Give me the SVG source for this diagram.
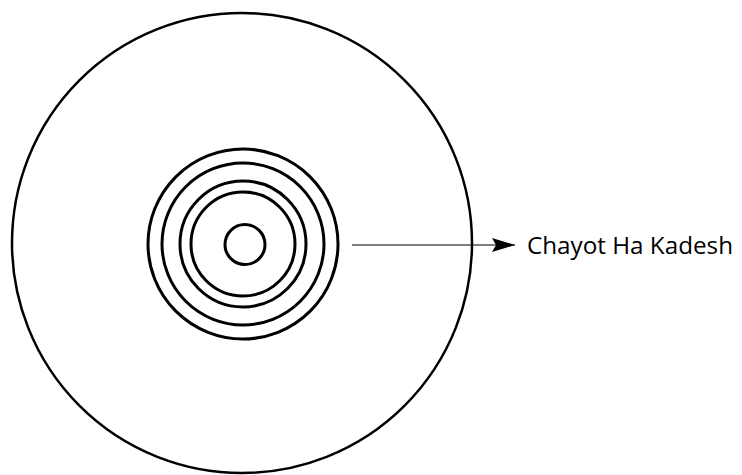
<svg xmlns="http://www.w3.org/2000/svg" width="742" height="475" viewBox="0 0 742 475">
<style>
.ring{fill:none;stroke:#000;stroke-width:3}
.outer{fill:none;stroke:#000;stroke-width:2.5}
.conn{fill:none;stroke:#000;stroke-width:1.2}
.lbl{font-family:"Open Sans","Liberation Sans",sans-serif;font-size:24px;fill:#000}
</style>
<defs>
<marker id="ah" markerWidth="24" markerHeight="14" refX="23" refY="7" orient="auto" markerUnits="userSpaceOnUse">
<path d="M0,0 L23,7 L0,14 L4,7 Z" fill="#000"/>
</marker>
</defs>
<rect width="742" height="475" fill="#fff"/>
<g id="outer-circle"><circle class="outer" cx="242" cy="243" r="230"/></g>
<g id="rings">
<circle class="ring" cx="243" cy="244" r="95"/>
<circle class="ring" cx="243" cy="244" r="81"/>
<circle class="ring" cx="243" cy="244" r="63"/>
<circle class="ring" cx="243" cy="244" r="52"/>
<circle class="ring" cx="245" cy="244.5" r="20"/>
</g>
<g id="connectors"><line class="conn" x1="352" y1="245" x2="515" y2="245" marker-end="url(#ah)"/></g>
<g id="label"><text class="lbl" x="527" y="254" textLength="206" lengthAdjust="spacingAndGlyphs">Chayot Ha Kadesh</text></g>
</svg>
